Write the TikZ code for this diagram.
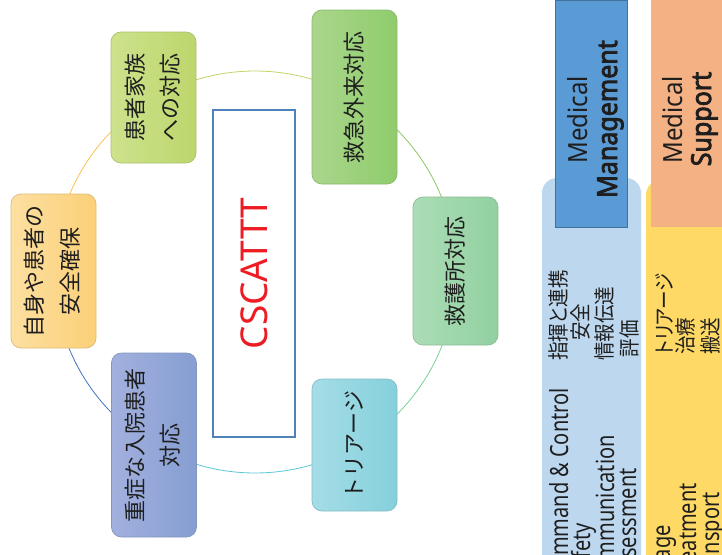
\documentclass[tikz,border=0pt]{standalone}
\usepackage{fontspec}
\usepackage{graphicx}
\newfontfamily\jp{Noto Sans CJK JP}
\newfontfamily\jpp{Noto Sans CJK JP}[RawFeature=+palt]
\newfontfamily\ns{Noto Sans}
\newfontfamily\nsb{Noto Sans}[FakeBold=3]
\definecolor{txt}{RGB}{30,30,30}
\definecolor{bAl}{RGB}{205,226,140}\definecolor{bAr}{RGB}{188,214,108}
\definecolor{bBl}{RGB}{170,214,140}\definecolor{bBr}{RGB}{143,204,108}
\definecolor{bCl}{RGB}{172,221,182}\definecolor{bCr}{RGB}{145,208,160}
\definecolor{bDl}{RGB}{165,221,230}\definecolor{bDr}{RGB}{133,208,220}
\definecolor{bEl}{RGB}{162,176,222}\definecolor{bEr}{RGB}{134,158,210}
\definecolor{bFl}{RGB}{253,223,160}\definecolor{bFr}{RGB}{251,208,120}
\definecolor{aA}{RGB}{190,215,100}
\definecolor{aB}{RGB}{140,200,100}
\definecolor{aC}{RGB}{120,210,150}
\definecolor{aD}{RGB}{90,200,215}
\definecolor{aE}{RGB}{68,114,196}
\definecolor{aF}{RGB}{250,195,80}
\definecolor{coreblue}{RGB}{79,129,189}
\definecolor{cred}{RGB}{237,28,36}
\definecolor{lblue}{RGB}{189,215,238}
\definecolor{dblue}{RGB}{91,155,213}
\definecolor{dbluel}{RGB}{65,113,156}
\definecolor{yel}{RGB}{255,217,102}
\definecolor{ora}{RGB}{244,177,131}
\tikzset{
  cbox/.style 2 args={rounded corners=10pt, left color=#1, right color=#2,
    draw=#2!75!gray, line width=0.7pt, minimum width=85pt, inner sep=0pt,
    text=txt, font=\jp\fontsize{22}{35}\selectfont},
  arcst/.style={line width=0.8pt, draw=#1},
  pen/.style={rotate=90, anchor=base east, inner sep=0pt, text=txt},
  pjp/.style={rotate=90, inner sep=0pt, text=txt, font=\jpp\fontsize{18.5}{22}\selectfont},
  ptitle/.style={rotate=90, anchor=base, inner sep=0pt, text=txt}
}
\newcommand{\EN}[1]{\scalebox{1}[1.25]{\ns\fontsize{20}{24}\selectfont #1}}
\newcommand{\JN}[1]{\scalebox{1}[1.15]{#1}}
\newcommand{\TN}[2]{\scalebox{1}[1.1]{\ns\fontsize{#1}{28}\selectfont #2}}
\newcommand{\TB}[2]{\scalebox{1}[1.1]{\nsb\fontsize{#1}{28}\selectfont #2}}
\begin{document}
\begin{tikzpicture}[x=1pt,y=-1pt]
\clip (0,0) rectangle (722,554);
\fill[white] (0,0) rectangle (722,554);
% cycle arcs
\coordinate (cc) at (255,272);
\draw[arcst=aA] (cc) ++(-107.1:201) arc[start angle=-107.1, end angle=-73.5, radius=201];
\draw[arcst=aB] (cc) ++(-45.05:201) arc[start angle=-45.05, end angle=-21.9, radius=201];
\draw[arcst=aC] (cc) ++(21.3:201) arc[start angle=21.3, end angle=45.05, radius=201];
\draw[arcst=aD] (cc) ++(73.5:201) arc[start angle=73.5, end angle=106.8, radius=201];
\draw[arcst=aE] (cc) ++(135.8:201) arc[start angle=135.8, end angle=157.8, radius=201];
\draw[arcst=aF] (cc) ++(202.8:201) arc[start angle=202.8, end angle=224.2, radius=201];
% boxes
\node[cbox={bAl}{bAr}, minimum height=131pt] (b1) at (153.5,97.5)
  {\rotatebox{90}{\begin{tabular}{@{}c@{}}患者家族\\への対応\end{tabular}}};
\node[cbox={bBl}{bBr}, minimum height=174pt] (b2) at (354.5,97)
  {\rotatebox{90}{救急外来対応}};
\node[cbox={bCl}{bCr}, minimum height=148pt] (b3) at (455.5,271)
  {\rotatebox{90}{救護所対応}};
\node[cbox={bDl}{bDr}, minimum height=132pt] (b4) at (354.5,445)
  {\rotatebox{90}{トリアージ}};
\node[cbox={bEl}{bEr}, minimum height=184pt] (b5) at (154,445)
  {\rotatebox{90}{\begin{tabular}{@{}c@{}}重症な入院患者\\対応\end{tabular}}};
\node[cbox={bFl}{bFr}, minimum height=154pt] (b6) at (53.5,271)
  {\rotatebox{90}{\begin{tabular}{@{}c@{}}自身や患者の\\安全確保\end{tabular}}};
% centre
\node[draw=coreblue, line width=1.2pt, minimum width=82pt, minimum height=327pt,
  inner sep=0pt, text=cred, font=\ns\fontsize{37}{44}\selectfont] (core) at (254,273.5)
  {\rotatebox{90}{CSCATTT}};
% right panel
\fill[lblue, rounded corners=15pt] (542,178) rectangle (641,620);
\draw[fill=dblue, draw=dbluel, line width=1pt] (555,0.5) rectangle (627,227);
\fill[yel, rounded corners=15pt] (646,180) rectangle (780,620);
\fill[ora] (651,-5) rectangle (780,227);
\node[ptitle] (m1) at (587,120) {\TN{24}{Medical}};
\node[ptitle] (m2) at (617,119) {\TB{25}{Management}};
\node[ptitle] (s1) at (682,120) {\TN{24}{Medical}};
\node[ptitle] (s2) at (711,119) {\TB{25}{Support}};
\node[pjp] (j1) at (558,315.5) {\JN{指揮と連携}};
\node[pjp] (j2) at (580.5,322) {\JN{安全}};
\node[pjp] (j3) at (604,323.5) {\JN{情報伝達}};
\node[pjp] (j4) at (629,338.5) {\JN{評価}};
\node[pen] (e1) at (568,388) {\EN{Command \& Control}};
\node[pen] (e2) at (590,523) {\EN{Safety}};
\node[pen] (e3) at (614,435) {\EN{Communication}};
\node[pen] (e4) at (636,468) {\EN{Assessment}};
\node[pjp, anchor=west] (k1) at (664,355) {\JN{トリアージ}};
\node[pjp, anchor=west] (k2) at (685.5,355) {\JN{治療}};
\node[pjp, anchor=west] (k3) at (710,355) {\JN{搬送}};
\node[pen] (f1) at (670,525) {\EN{Triage}};
\node[pen] (f2) at (696,483) {\EN{Treatment}};
\node[pen] (f3) at (719,492) {\EN{Transport}};
\end{tikzpicture}
\end{document}
